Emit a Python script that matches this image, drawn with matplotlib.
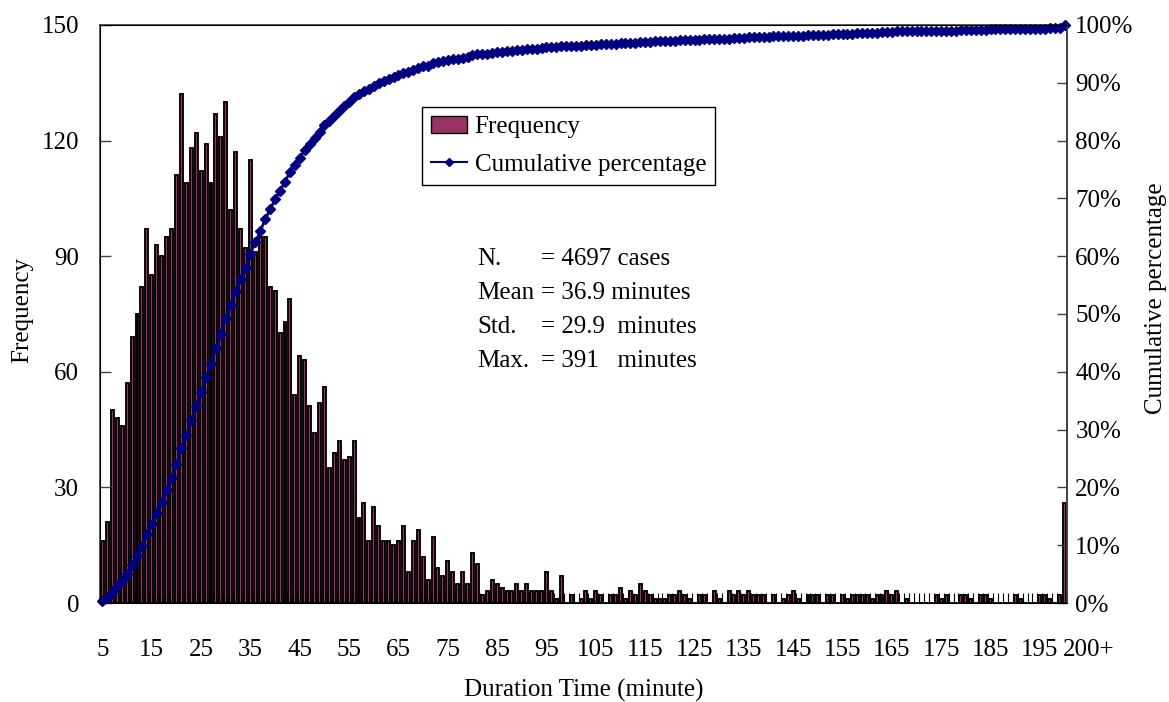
import numpy as np
import matplotlib
matplotlib.use('Agg')
import matplotlib.pyplot as plt
from matplotlib.ticker import FixedLocator, PercentFormatter
from matplotlib.transforms import blended_transform_factory
from matplotlib.patches import Patch
from matplotlib.lines import Line2D

plt.rcParams['font.family'] = ['Liberation Serif', 'DejaVu Serif']
plt.rcParams['font.size'] = 18

# Duration categories (minutes): 5 ... 199, then 200+
categories = [str(m) for m in range(5, 200)] + ['200+']

# Frequency per duration
freq = [
    16, 21, 50, 48, 46, 57, 69, 75, 82, 97,          # 5-14
    85, 93, 90, 95, 97, 111, 132, 109, 118, 122,     # 15-24
    112, 119, 109, 127, 121, 130, 102, 117, 97, 92,  # 25-34
    115, 91, 95, 95, 82, 81, 70, 73, 79, 54,         # 35-44
    64, 63, 51, 44, 52, 56, 35, 39, 42, 37,          # 45-54
    38, 42, 22, 26, 16, 25, 20, 16, 16, 15,          # 55-64
    16, 20, 8, 16, 19, 12, 6, 17, 9, 7,              # 65-74
    11, 8, 5, 8, 5, 13, 10, 2, 3, 6,                 # 75-84
    5, 4, 3, 3, 5, 3, 5, 3, 3, 3,                    # 85-94
    8, 3, 1, 7, 0, 2, 0, 1, 3, 1,                    # 95-104
    3, 2, 0, 2, 2, 4, 1, 3, 2, 5,                    # 105-114
    3, 2, 1, 1, 1, 2, 2, 3, 2, 1,                    # 115-124
    0, 2, 2, 0, 3, 1, 0, 3, 2, 3,                    # 125-134
    2, 3, 2, 2, 2, 0, 2, 0, 1, 2,                    # 135-144
    3, 1, 0, 2, 2, 2, 0, 2, 2, 0,                    # 145-154
    2, 1, 2, 2, 2, 2, 1, 2, 2, 3,                    # 155-164
    2, 3, 0, 1, 0, 0, 0, 0, 0, 2,                    # 165-174
    1, 2, 0, 0, 2, 2, 1, 0, 2, 2,                    # 175-184
    1, 0, 0, 0, 0, 2, 1, 0, 0, 0,                    # 185-194
    2, 2, 1, 0, 2,                                   # 195-199
    26,                                              # 200+
]

stats_keys = ['N.', 'Mean', 'Std.', 'Max.']
stats_vals = ['= 4697 cases', '= 36.9 minutes', '= 29.9  minutes', '= 391   minutes']

freq = np.array(freq)
cum_pct = np.cumsum(freq) / freq.sum()
idx = np.arange(len(categories))

fig = plt.figure(figsize=(11.69, 7.02), dpi=100)
ax = fig.add_axes([100/1169, 1 - 603/702, 967/1169, 578/702])

ax.bar(idx, freq, width=0.6, color='#993366', edgecolor='black', linewidth=1.35)
ax.set_xlim(-0.5, len(idx) - 0.5)
ax.set_ylim(0, 150)
ax.set_yticks(np.arange(0, 151, 30))

# x ticks: labels every 10 categories, small tick marks at every category boundary
ax.xaxis.set_major_locator(FixedLocator(idx[::10][:20]))
ax.set_xticklabels([categories[i] for i in idx[::10][:20]])
ax.xaxis.set_minor_locator(FixedLocator(np.arange(-0.5, len(idx), 1.0)))
ax.tick_params(axis='x', which='major', length=0, pad=26)
ax.tick_params(axis='x', which='minor', direction='in', length=7, width=0.8, color='black')
ax.tick_params(axis='y', direction='in', length=8, width=1, color='#404040', pad=15)

tr = blended_transform_factory(ax.transData, ax.transAxes)
ax.text(len(idx) - 0.5 + 4.3, -0.081, '200+', transform=tr, ha='center', va='center')

for s in ['left', 'top', 'right']:
    ax.spines[s].set_color('#404040')
    ax.spines[s].set_linewidth(1.2)
ax.spines['bottom'].set_color('black')
ax.spines['bottom'].set_linewidth(1.2)

ax.set_ylabel('Frequency')
ax.yaxis.set_label_coords(-0.069, 0.507)
ax.set_xlabel('Duration Time (minute)')
ax.xaxis.set_label_coords(0.5, -0.132)

ax2 = ax.twinx()
ax2.plot(idx, cum_pct, color='#000080', lw=2, marker='D', markersize=5,
         markerfacecolor='#000080', markeredgecolor='#000080', clip_on=False)
ax2.set_ylim(0, 1)
ax2.set_yticks(np.arange(0, 1.01, 0.1))
ax2.yaxis.set_major_formatter(PercentFormatter(1.0, decimals=0))
ax2.tick_params(axis='y', direction='in', length=7, width=1, color='#404040', pad=6)
ax2.spines['right'].set_color('#404040')
ax2.spines['right'].set_linewidth(1.2)
ax2.set_ylabel('Cumulative percentage')
ax2.yaxis.set_label_coords(1.081, 0.528)

handles = [Patch(facecolor='#993366', edgecolor='black', linewidth=1),
           Line2D([], [], color='#000080', lw=1.5, marker='D', markersize=4)]
leg = ax2.legend(handles, ['Frequency', 'Cumulative percentage'],
                 loc='upper left', bbox_to_anchor=(0.333, 0.858), borderaxespad=0,
                 fancybox=False, framealpha=1, edgecolor='black',
                 handlelength=1.45, handletextpad=0.3, labelspacing=0.6,
                 borderpad=0.35)
leg.get_frame().set_linewidth(1)

for i, (k, v) in enumerate(zip(stats_keys, stats_vals)):
    yb = 1 - (265 + 34 * i) / 702
    fig.text(477/1169, yb, k, ha='left', va='baseline')
    fig.text(541/1169, yb, v, ha='left', va='baseline')

fig.savefig('out.png', dpi=100)
